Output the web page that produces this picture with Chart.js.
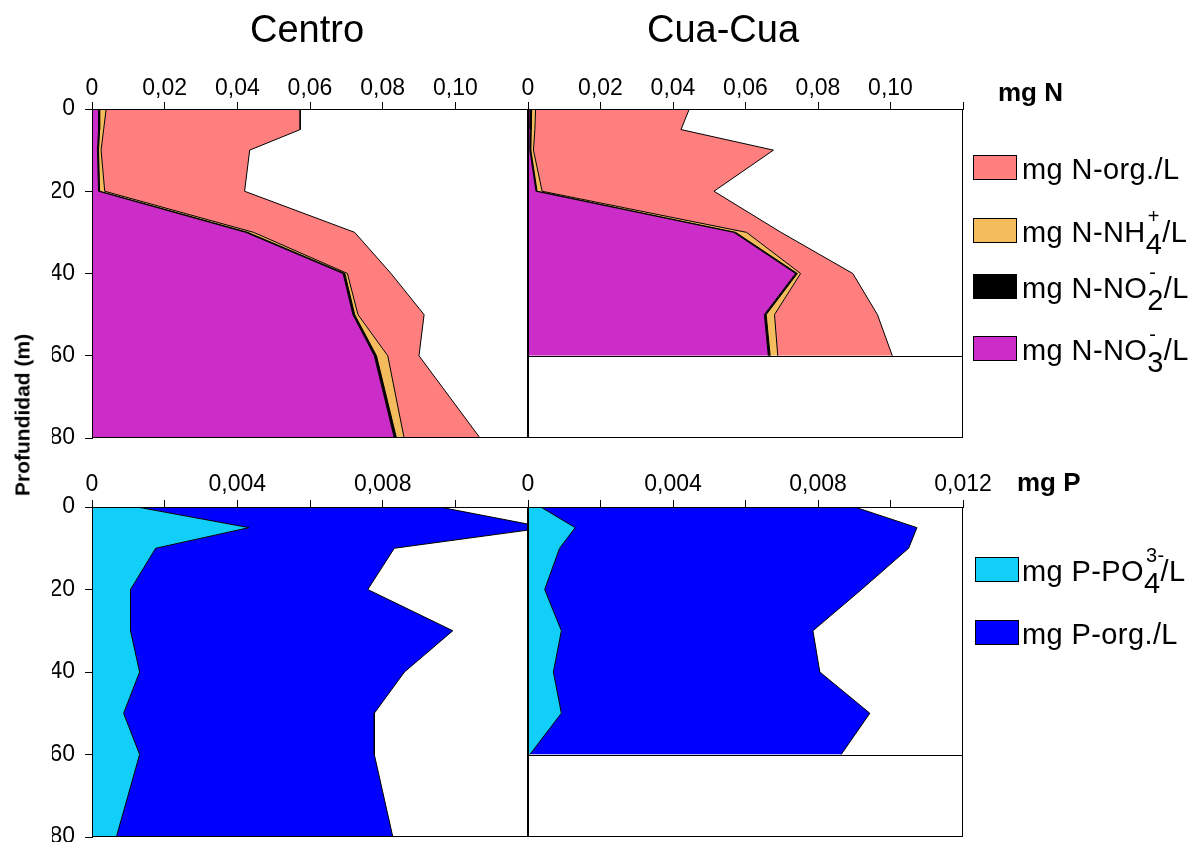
<!DOCTYPE html>
<html>
<head>
<meta charset="utf-8">
<script src="https://cdn.jsdelivr.net/npm/chart.js@4.4.1/dist/chart.umd.min.js"></script>
<style>
  body { margin: 0; background: #fff; font-family: "Liberation Sans", Arial, sans-serif; color: #000; }
  #wrap { position: relative; width: 1201px; height: 842px; overflow: hidden; }
  canvas { position: absolute; left: 0; top: 0; }
  .txt { position: absolute; line-height: 1; white-space: nowrap; }
  .title { font-size: 38px; top: 10px; transform: translateX(-50%); }
  .unit { font-size: 26px; font-weight: bold; }
  .ytitle { font-size: 21px; font-weight: bold; left: 22px; top: 415px; transform: translate(-50%, -50%) rotate(-90deg); }
  .box { position: absolute; width: 42px; height: 23px; border: 1px solid #000; }
  .leg { font-size: 29px; letter-spacing: 0.4px; }
  .stk { position: relative; display: inline-block; }
  .stk .sb { position: relative; top: 12px; }
  .stk .sp { position: absolute; left: 2px; top: -12px; font-size: 20px; }
</style>
</head>
<body>
<div id="wrap">
  <canvas id="nCentro" width="1201" height="900"></canvas>
  <canvas id="nCua" width="1201" height="900"></canvas>
  <canvas id="pCentro" width="1201" height="900"></canvas>
  <canvas id="pCua" width="1201" height="900"></canvas>

  <div class="txt title" style="left:307px">Centro</div>
  <div class="txt title" style="left:723px">Cua-Cua</div>
  <div class="txt ytitle">Profundidad (m)</div>
  <div class="txt unit" style="left:998px;top:79px">mg N</div>
  <div class="txt unit" style="left:1017px;top:469px">mg P</div>

  <div class="box" style="left:973px;top:155px;background:#FF7F7F"></div>
  <div class="txt leg" style="left:1022px;top:155px">mg N-org./L</div>
  <div class="box" style="left:973px;top:218px;background:#F4BC5C"></div>
  <div class="txt leg" style="left:1022px;top:218px">mg N-NH<span class="stk"><span class="sp">+</span><span class="sb">4</span></span>/L</div>
  <div class="box" style="left:973px;top:274px;background:#000"></div>
  <div class="txt leg" style="left:1022px;top:274px">mg N-NO<span class="stk"><span class="sp">-</span><span class="sb">2</span></span>/L</div>
  <div class="box" style="left:973px;top:336px;background:#CC2CC8"></div>
  <div class="txt leg" style="left:1022px;top:336px">mg N-NO<span class="stk"><span class="sp">-</span><span class="sb">3</span></span>/L</div>

  <div class="box" style="left:975px;top:557px;background:#12CFFA"></div>
  <div class="txt leg" style="left:1022px;top:557px">mg P-PO<span class="stk"><span class="sp">3-</span><span class="sb">4</span></span>/L</div>
  <div class="box" style="left:975px;top:620px;background:#0000FF"></div>
  <div class="txt leg" style="left:1022px;top:620px">mg P-org./L</div>
</div>

<script>
// depths (m)
const depthCentro = [0, 5, 10, 20, 30, 40, 50, 60, 80];
const depthCua = [0, 5, 10, 20, 30, 40, 50, 60];

// nitrogen, Centro (mg/L)
const centroNO3 = [0.0018, 0.0018, 0.0015, 0.0018, 0.0423, 0.0691, 0.0718, 0.0777, 0.0832];
const centroNO2 = [0.0003, 0.0003, 0.0003, 0.0003, 0.0006, 0.0005, 0.0005, 0.0006, 0.0006];
const centroNH4 = [0.0018, 0.0011, 0.0007, 0.0014, 0.0016, 0.0007, 0.0009, 0.0031, 0.0021];
const centroNorg = [0.0534, 0.0541, 0.0409, 0.0385, 0.0278, 0.0120, 0.0182, 0.0086, 0.0209];

// nitrogen, Cua-Cua (mg/L)
const cuaNO3 = [0.0007, 0.0006, 0.0005, 0.0022, 0.0568, 0.0738, 0.0652, 0.0663];
const cuaNO2 = [0.0003, 0.0003, 0.0003, 0.0003, 0.0005, 0.0005, 0.0005, 0.0005];
const cuaNH4 = [0.0011, 0.0010, 0.0007, 0.0014, 0.0030, 0.0009, 0.0023, 0.0021];
const cuaNorg = [0.0424, 0.0403, 0.0662, 0.0474, 0.0095, 0.0144, 0.0284, 0.0316];

// phosphorus (mg/L)
const centroPO4 = [0.00124, 0.00432, 0.00175, 0.00106, 0.00106, 0.00131, 0.00087, 0.00131, 0.00067];
const centroPorg = [0.00832, 0.00818, 0.00657, 0.00653, 0.00887, 0.00729, 0.00690, 0.00646, 0.00761];
const cuaPO4 = [0.00035, 0.00130, 0.00087, 0.00046, 0.00092, 0.00070, 0.00092, 0.00005];
const cuaPorg = [0.00866, 0.00943, 0.00963, 0.00874, 0.00694, 0.00735, 0.00851, 0.00859];

// canvases are a bit taller than the page so the last y label never squeezes the plot
const W = 1201, H = 900;
const AXIS = 40;
const tickFont = { family: '"Liberation Sans", Arial, sans-serif', size: 23 };

function layer(depths, values, color, first) {
  return {
    data: values.map((v, i) => ({ x: v, y: depths[i] })),
    backgroundColor: color,
    borderColor: '#000',
    borderWidth: 1,
    fill: first ? 'origin' : '-1',
    pointRadius: 0,
    tension: 0
  };
}

// plot-area box and the bottom line of a shorter profile
const framePlugin = {
  id: 'frame',
  afterDatasetsDraw(chart, args, opts) {
    const { ctx, chartArea: a, scales } = chart;
    ctx.save();
    ctx.strokeStyle = '#000';
    ctx.lineWidth = 1;
    ctx.strokeRect(a.left + 0.5, a.top + 0.5, a.width - 1, a.height - 1);
    if (opts.floor < scales.y.max) {
      const y = Math.round(scales.y.getPixelForValue(opts.floor)) + 0.5;
      ctx.beginPath();
      ctx.moveTo(a.left, y);
      ctx.lineTo(a.right, y);
      ctx.stroke();
    }
    ctx.restore();
  }
};

function panel(id, area, datasets, o) {
  const yw = o.showY ? AXIS : 0;
  new Chart(document.getElementById(id), {
    type: 'line',
    data: { datasets },
    options: {
      indexAxis: 'y',
      responsive: false,
      animation: false,
      events: [],
      layout: { padding: { left: area.left - yw, top: area.top - AXIS, right: W - area.right, bottom: H - area.bottom } },
      plugins: {
        legend: { display: false },
        tooltip: { enabled: false },
        frame: { floor: o.floor }
      },
      scales: {
        x: {
          type: 'linear',
          position: 'top',
          stacked: true,
          min: 0,
          max: o.xMax,
          afterFit: s => { s.height = AXIS; },
          grid: { drawOnChartArea: false, tickLength: 7, color: '#000' },
          border: { color: '#000' },
          ticks: {
            stepSize: o.step,
            autoSkip: false,
            maxRotation: 0,
            padding: o.pad,
            color: '#000',
            font: tickFont,
            callback: v => {
              const k = Math.round(v / o.step);
              if (k % o.every !== 0) return '';
              if (o.hideLast && Math.abs(v - o.xMax) < 1e-9) return '';
              return v === 0 ? '0' : v.toFixed(o.dec).replace('.', ',');
            }
          }
        },
        y: {
          type: 'linear',
          reverse: true,
          min: 0,
          max: 80,
          display: o.showY,
          afterFit: s => { s.width = yw; },
          grid: { drawOnChartArea: false, tickLength: 7, color: '#000' },
          border: { color: '#000' },
          ticks: { stepSize: 20, padding: 10, color: '#000', font: tickFont }
        }
      }
    },
    plugins: [framePlugin]
  });
}

const N_COLORS = ['#CC2CC8', '#000000', '#F4BC5C', '#FF7F7F'];
const P_COLORS = ['#12CFFA', '#0000FF'];

function nLayers(d, no3, no2, nh4, org) {
  return [no3, no2, nh4, org].map((v, i) => layer(d, v, N_COLORS[i], i === 0));
}
function pLayers(d, po4, org) {
  return [po4, org].map((v, i) => layer(d, v, P_COLORS[i], i === 0));
}

const nOpts = { xMax: 0.12, step: 0.02, every: 1, dec: 2, pad: 0, hideLast: true };
const pOpts = { xMax: 0.012, step: 0.002, every: 2, dec: 3, pad: 2 };

panel('nCentro', { left: 92, top: 109, right: 528, bottom: 438 },
  nLayers(depthCentro, centroNO3, centroNO2, centroNH4, centroNorg),
  Object.assign({}, nOpts, { showY: true, floor: depthCentro[depthCentro.length - 1] }));
panel('nCua', { left: 528, top: 109, right: 963, bottom: 438 },
  nLayers(depthCua, cuaNO3, cuaNO2, cuaNH4, cuaNorg),
  Object.assign({}, nOpts, { showY: false, floor: depthCua[depthCua.length - 1] }));
panel('pCentro', { left: 92, top: 507, right: 528, bottom: 837 },
  pLayers(depthCentro, centroPO4, centroPorg),
  Object.assign({}, pOpts, { showY: true, hideLast: true, floor: depthCentro[depthCentro.length - 1] }));
panel('pCua', { left: 528, top: 507, right: 963, bottom: 837 },
  pLayers(depthCua, cuaPO4, cuaPorg),
  Object.assign({}, pOpts, { showY: false, hideLast: false, floor: depthCua[depthCua.length - 1] }));
</script>
</body>
</html>
